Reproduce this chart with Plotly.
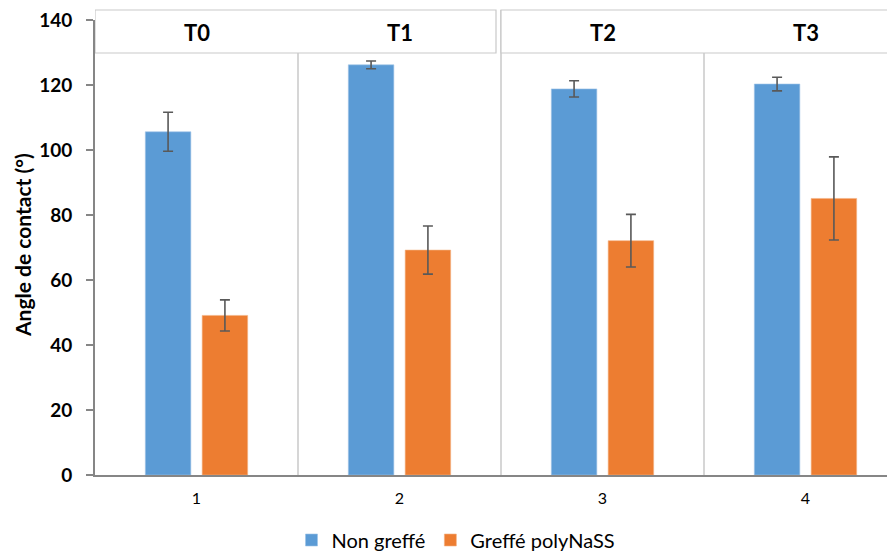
import plotly.graph_objects as go

categories = [1, 2, 3, 4]
periods = ["T0", "T1", "T2", "T3"]
non_greffe = [105.6, 126.2, 118.8, 120.3]
non_greffe_err = [6.0, 1.2, 2.5, 2.1]
greffe = [49.1, 69.2, 72.1, 85.1]
greffe_err = [4.8, 7.4, 8.1, 12.8]
y_ticks = [0, 20, 40, 60, 80, 100, 120, 140]

FONT = "Lato"
BLUE = "#5B9BD5"
ORANGE = "#ED7D31"
ERR = "#595959"
GRID = "#C9C9C9"

fig = go.Figure()
fig.add_trace(go.Bar(
    x=categories, y=non_greffe, name="Non greffé",
    marker=dict(color=BLUE, line=dict(color="#9DC3E6", width=0.6)),
    error_y=dict(type="data", array=non_greffe_err, color=ERR, thickness=1.6, width=5),
))
fig.add_trace(go.Bar(
    x=categories, y=greffe, name="Greffé polyNaSS",
    marker=dict(color=ORANGE, line=dict(color="#F4B183", width=0.6)),
    error_y=dict(type="data", array=greffe_err, color=ERR, thickness=1.6, width=5),
))

# page body has an 8px margin: compensate so the plot area sits at x 95..895, y 20..475 in the window
OFF = 8
px_per_unit = 203.0
x_lo = 0.5
x_hi = 0.5 + 800 / px_per_unit
hdr_top = (475 - 10) / 455.0
hdr_bot = (475 - 53) / 455.0
hdr_mid = (475 - 32) / 455.0

shapes = []
for xd in [1.5, 3.5]:
    shapes.append(dict(type="line", xref="x", yref="paper", x0=xd, x1=xd, y0=0, y1=hdr_bot,
                       line=dict(color=GRID, width=1.5), layer="below"))
shapes.append(dict(type="line", xref="x", yref="paper", x0=2.5, x1=2.5, y0=0, y1=hdr_top,
                   line=dict(color=GRID, width=1.5), layer="below"))
shapes.append(dict(type="rect", xref="x", yref="paper", x0=0.5, x1=0.5 + 401 / px_per_unit,
                   y0=hdr_bot, y1=hdr_top, fillcolor="white", line=dict(color=GRID, width=1.2),
                   layer="above"))
shapes.append(dict(type="rect", xref="x", yref="paper", x0=2.5, x1=4.6,
                   y0=hdr_bot, y1=hdr_top, fillcolor="white", line=dict(color=GRID, width=1.2),
                   layer="above"))

annotations = []
for c, p in zip(categories, periods):
    annotations.append(dict(x=c, y=hdr_mid, xref="x", yref="paper", text="<b>%s</b>" % p,
                            showarrow=False, font=dict(family=FONT, size=22, color="#000000"),
                            xanchor="center", yanchor="middle"))
annotations.append(dict(x=-73 / 800.0, y=(475 - 245) / 455.0, xref="paper", yref="paper",
                        text="<b>Angle de contact (°)</b>",
                        showarrow=False, textangle=-90, xanchor="center", yanchor="middle",
                        font=dict(family=FONT, size=21, color="#000000")))

fig.update_layout(
    width=895 - OFF, height=554 - OFF,
    margin=dict(l=95 - OFF, r=0, t=20 - OFF, b=79, autoexpand=False),
    paper_bgcolor="white", plot_bgcolor="white",
    barmode="group", bargap=0.44, bargroupgap=0.2,
    font=dict(family=FONT, color="#000000"),
    shapes=shapes, annotations=annotations,
    legend=dict(orientation="h", x=(456 - 95) / 800.0, y=(475 - 540) / 455.0,
                xanchor="center", yanchor="middle",
                font=dict(family=FONT, size=20, color="#000000"), itemwidth=30,
                traceorder="normal"),
    xaxis=dict(range=[x_lo, x_hi], tickmode="array", tickvals=categories,
               ticktext=[str(c) for c in categories], showgrid=False, zeroline=False,
               showline=True, linecolor="#868686", linewidth=1.6, ticks="",
               ticklabelstandoff=8, automargin=False,
               tickfont=dict(family=FONT, size=16, color="#000000")),
    yaxis=dict(range=[0, 140], tickmode="array", tickvals=y_ticks,
               ticktext=["<b>%d</b>" % v for v in y_ticks], showgrid=False, zeroline=False,
               showline=True, linecolor="#868686", linewidth=1.6, ticks="outside",
               ticklen=7, tickcolor="#868686", tickwidth=1.6, ticklabelstandoff=10,
               ticklabeloverflow="allow", automargin=False,
               tickfont=dict(family=FONT, size=19, color="#000000")),
)

fig.write_html("out.html")
